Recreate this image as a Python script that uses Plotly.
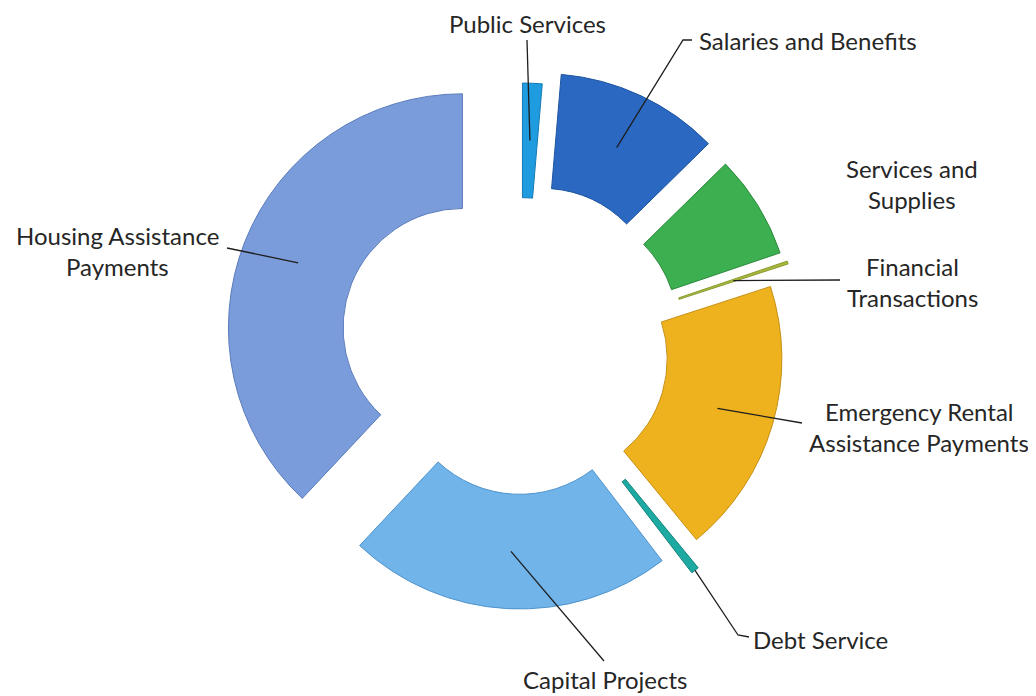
import math
import plotly.graph_objects as go

# ---- data ----
categories = [
    "Public Services",
    "Salaries and Benefits",
    "Services and Supplies",
    "Financial Transactions",
    "Emergency Rental Assistance Payments",
    "Debt Service",
    "Capital Projects",
    "Housing Assistance Payments",
]
values = [1.35, 11.3, 7.15, 0.2, 19.05, 0.55, 22.4, 38.0]  # percent of total

label_lines = [
    ["Public Services"],
    ["Salaries and Benefits"],
    ["Services and", "Supplies"],
    ["Financial", "Transactions"],
    ["Emergency Rental", "Assistance Payments"],
    ["Debt Service"],
    ["Capital Projects"],
    ["Housing Assistance", "Payments"],
]

# ---- style ----
colors = ["#1f9be0", "#2a68c2", "#3caf50", "#a9b83c", "#efb21f", "#1daaa2", "#70b4ea", "#7a9cda"]
edge_colors = ["#167bb5", "#1f559f", "#2e8a3e", "#8a9a2e", "#c58f12", "#14837c", "#4f93cc", "#5a7cbc"]
pull_px = [34, 48, 44, 47, 28, 46, 24, 63]

# page geometry: the html body has an 8px default margin
OFF = 8
W, H = 1036 - OFF, 696 - OFF
CX, CY = 521, 351          # screen pixel centre of the donut
R = 234
HOLE = 0.51

# label layout (screen pixel positions): text centre, leader tail points, anchor on slice
label_pos = [
    (527, 23), (808, 41), (912, 184), (912, 282),
    (919, 427), (820, 639), (605, 679), (117, 251),
]
leader_tails = [
    [(527, 40)],
    [(692, 40), (683, 40)],
    [],
    [(840, 280)],
    [(802, 423)],
    [(749, 637), (738, 635)],
    [(604, 661)],
    [(227, 248)],
]
anchor_kind = ["mid", "mid", "mid", "mid", "mid", "outer", "mid", "mid"]
LINE_GAP = 31
FONT = dict(family="Lato, Open Sans, sans-serif", size=24, color="#262626")


def px(x, y):
    return (x - OFF) / W, 1 - (y - OFF) / H


pulls = [p / R for p in pull_px]
max_pull = max(pulls)
box = 2 * R * (1 + max_pull)
dx0, dy1 = px(CX - box / 2, CY - box / 2)
dx1, dy0 = px(CX + box / 2, CY + box / 2)

fig = go.Figure()
fig.add_trace(go.Pie(
    labels=categories,
    values=values,
    sort=False,
    direction="clockwise",
    rotation=0,
    hole=HOLE,
    pull=pulls,
    textinfo="none",
    hoverinfo="label+percent",
    marker=dict(colors=colors, line=dict(color=edge_colors, width=1)),
    domain=dict(x=[dx0, dx1], y=[dy0, dy1]),
    showlegend=False,
))

total = sum(values)
cum = 0.0
shapes = []
annotations = []
r_in = R * HOLE
for i, v in enumerate(values):
    a0 = cum / total * 360
    cum += v
    a1 = cum / total * 360
    mid = math.radians((a0 + a1) / 2)
    rho = pull_px[i] + ((r_in + R) / 2 if anchor_kind[i] == "mid" else R)
    ex = CX + rho * math.sin(mid)
    ey = CY - rho * math.cos(mid)
    tails = leader_tails[i]
    if tails:
        pts = [px(*p) for p in tails] + [px(ex, ey)]
        path = "M " + " L ".join(f"{x:.5f},{y:.5f}" for x, y in pts)
        shapes.append(dict(type="path", path=path, xref="paper", yref="paper",
                           line=dict(color="#1e1e1e", width=1.3), layer="above"))
    lx, ly = label_pos[i]
    lines = label_lines[i]
    n = len(lines)
    for k, t in enumerate(lines):
        yy = ly + (k - (n - 1) / 2) * LINE_GAP
        x0, y0 = px(lx, yy)
        annotations.append(dict(x=x0, y=y0, xref="paper", yref="paper", text=t,
                                showarrow=False, xanchor="center", yanchor="middle",
                                font=FONT))

fig.update_layout(
    width=W, height=H,
    margin=dict(l=0, r=0, t=0, b=0),
    paper_bgcolor="white", plot_bgcolor="white",
    shapes=shapes, annotations=annotations,
)
fig.write_html("out.html")
